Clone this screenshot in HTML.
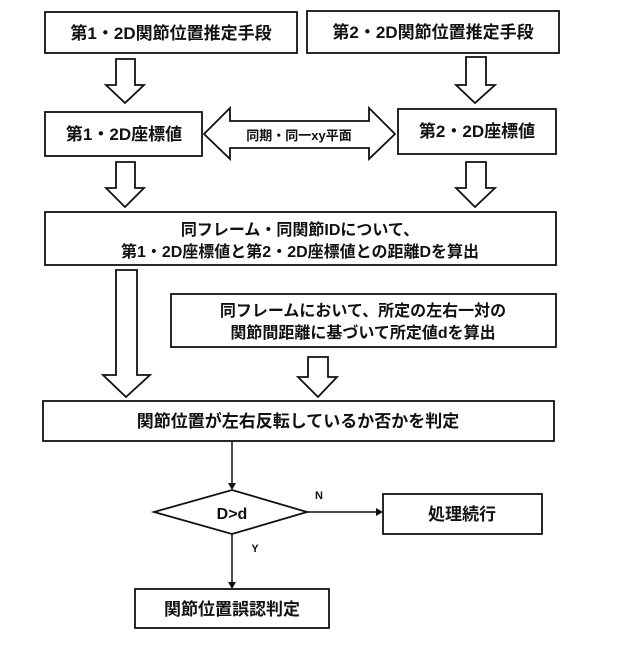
<!DOCTYPE html>
<html><head><meta charset="utf-8"><style>
body{margin:0;background:#fff;}
svg text{font-family:"Liberation Sans","Noto Sans CJK JP",sans-serif;font-weight:bold;fill:#111;}
</style></head><body>
<svg width="640" height="640" viewBox="0 0 640 640" xmlns="http://www.w3.org/2000/svg">
<g fill="#fff" stroke="#111" stroke-width="1.8">
<rect x="45" y="12" width="252" height="41"/>
<rect x="307" y="11" width="252" height="42"/>
<rect x="45" y="112" width="157" height="44"/>
<rect x="398" y="109" width="158" height="45"/>
<rect x="45" y="212" width="511" height="53"/>
<rect x="171" y="294" width="385" height="53"/>
<rect x="43" y="401" width="511" height="40"/>
<rect x="383" y="494" width="159" height="40"/>
<rect x="135" y="589" width="194" height="39"/>
<!-- block arrows -->
<polygon points="116,59 135,59 135,85 144,85 125,103 106,85 116,85"/>
<polygon points="466,57 486,57 486,85 495,85 475,103 456,85 466,85"/>
<polygon points="116,162 135,162 135,188 144,188 125,207 106,188 116,188"/>
<polygon points="466,162 486,162 486,188 495,188 475,207 456,188 466,188"/>
<polygon points="116,270 137,270 137,375 150,375 126,397 103,375 116,375"/>
<polygon points="308,357 328,357 328,377 337,377 318,397 298,377 308,377"/>
<polygon points="204,134 230,108 230,121 369,121 369,108 395,134 369,159 369,148 230,148 230,159"/>
<polygon points="154,512 232,490 307,512 232,534"/>
</g>
<g stroke="#111" stroke-width="1.5" fill="none">
<line x1="232" y1="441" x2="232" y2="484"/>
<line x1="307" y1="512" x2="377" y2="512"/>
<line x1="232" y1="534" x2="232" y2="583"/>
</g>
<g fill="#111">
<polygon points="228,483 236,483 232,490"/>
<polygon points="376,508 376,516 383,512"/>
<polygon points="228,582 236,582 232,589"/>
</g>
<g font-size="17" text-anchor="middle">
<text x="171" y="39">第1・2D関節位置推定手段</text>
<text x="433" y="38">第2・2D関節位置推定手段</text>
<text x="124" y="140">第1・2D座標値</text>
<text x="477" y="137">第2・2D座標値</text>
<text x="300" y="235" font-size="16">同フレーム・同関節IDについて、</text>
<text x="300" y="257" font-size="16">第1・2D座標値と第2・2D座標値との距離Dを算出</text>
<text x="363" y="316" font-size="16">同フレームにおいて、所定の左右一対の</text>
<text x="363" y="338" font-size="16">関節間距離に基づいて所定値dを算出</text>
<text x="298" y="427">関節位置が左右反転しているか否かを判定</text>
<text x="232" y="519" font-size="16" font-weight="normal">D&gt;d</text>
<text x="462" y="520">処理続行</text>
<text x="232" y="615">関節位置誤認判定</text>
<text x="299" y="140" font-size="13">同期・同一xy平面</text>
<text x="319" y="499" font-size="11">N</text>
<text x="255" y="552" font-size="11">Y</text>
</g>
</svg>
</body></html>
